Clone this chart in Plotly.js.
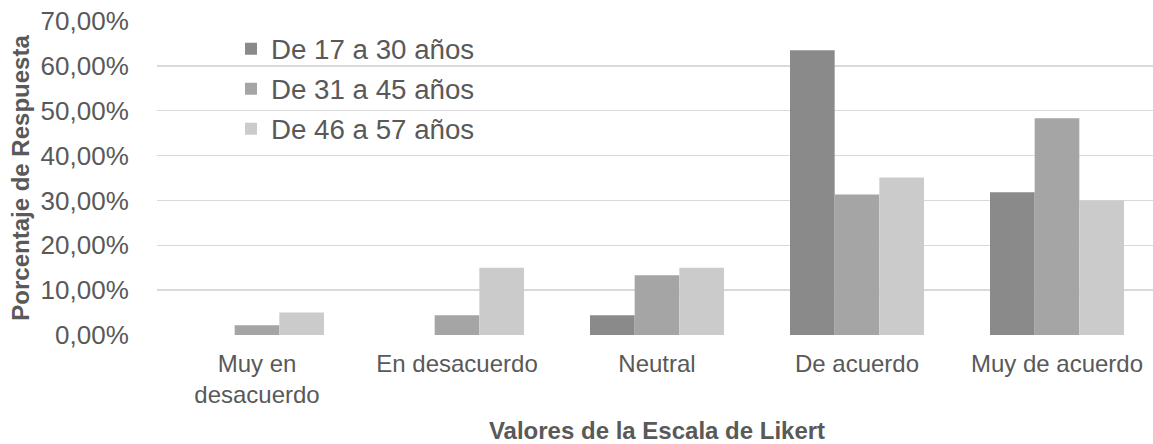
<!DOCTYPE html>
<html>
<head>
<meta charset="utf-8">
<script src="https://cdn.plot.ly/plotly-3.0.1.min.js"></script>
<style>
html, body { margin: 0; padding: 0; overflow: hidden; background: #fff; }
#chart { width: 1160px; height: 444px; }
</style>
</head>
<body>
<div id="chart"></div>
<script>
const categories = ["Muy en<br>desacuerdo", "En desacuerdo", "Neutral", "De acuerdo", "Muy de acuerdo"];
const seriesNames = ["De 17 a 30 años", "De 31 a 45 años", "De 46 a 57 años"];
const age17to30 = [0, 0, 0.044, 0.635, 0.318];
const age31to45 = [0.022, 0.044, 0.133, 0.313, 0.483];
const age46to57 = [0.050, 0.150, 0.150, 0.351, 0.300];
const yTicks = [0, 0.1, 0.2, 0.3, 0.4, 0.5, 0.6, 0.7];
const colors = ["#8a8a8a", "#a5a5a5", "#cbcbcb"];

const seriesValues = [age17to30, age31to45, age46to57];
const traces = seriesValues.map((vals, i) => ({
  type: "bar",
  name: seriesNames[i],
  x: categories,
  y: vals,
  legendgroup: "g" + i,
  marker: { color: colors[i], line: { width: 0 } },
  hoverinfo: "none"
}));

const font = "Arial, 'Liberation Sans', sans-serif";
const layout = {
  width: 1160,
  height: 444,
  margin: { l: 157, r: 3, t: 21, b: 109 },
  paper_bgcolor: "#ffffff",
  plot_bgcolor: "#ffffff",
  separators: ",.",
  barmode: "group",
  bargap: 0.33,
  bargroupgap: 0,
  font: { family: font, color: "#595959", size: 24 },
  showlegend: true,
  legend: {
    x: 0.074, y: 0.99, xanchor: "left", yanchor: "top",
    bgcolor: "rgba(0,0,0,0)",
    font: { family: font, size: 27.7, color: "#595959" },
    traceorder: "grouped",
    tracegroupgap: 1
  },
  xaxis: {
    type: "category",
    tickfont: { family: font, size: 24, color: "#595959" },
    ticks: "outside", ticklen: 7, tickcolor: "rgba(0,0,0,0)",
    showgrid: false, zeroline: false, showline: false,
    title: { text: "<b>Valores de la Escala de Likert</b>", font: { family: font, size: 24, color: "#595959" }, standoff: 16 }
  },
  yaxis: {
    range: [0, 0.7],
    tickvals: yTicks,
    tickformat: ".2%",
    tickfont: { family: font, size: 26, color: "#595959" },
    ticks: "outside", ticklen: 22, tickcolor: "rgba(0,0,0,0)",
    showgrid: true, gridcolor: "#d9d9d9", gridwidth: 1.5,
    zeroline: false, showline: false,
    title: { text: "<b>Porcentaje de Respuesta</b>", font: { family: font, size: 24, color: "#595959" }, standoff: 4 }
  }
};

Plotly.newPlot("chart", traces, layout, { staticPlot: true, displayModeBar: false });
</script>
</body>
</html>
